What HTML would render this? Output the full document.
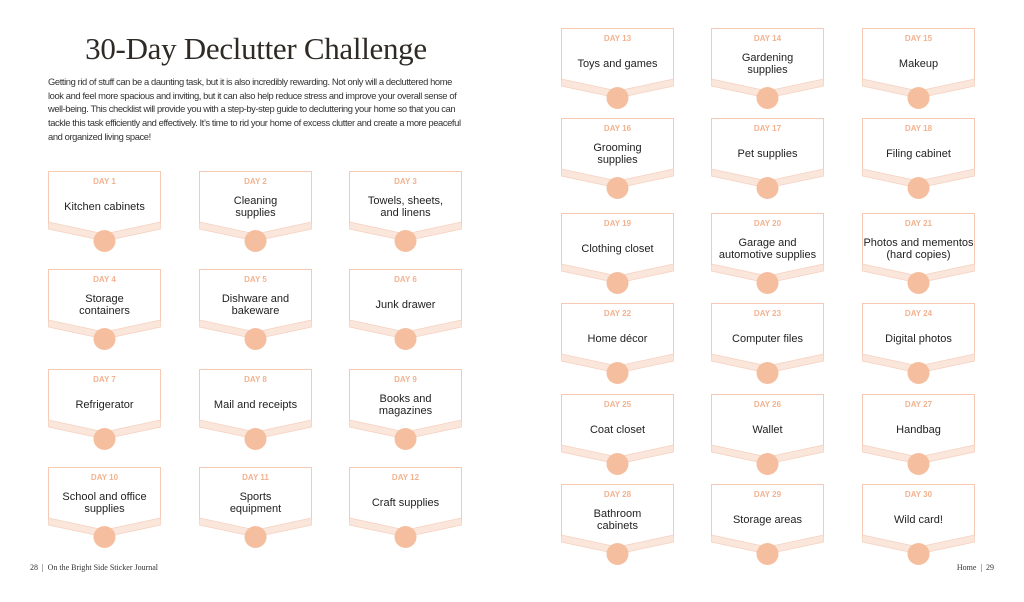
<!DOCTYPE html>
<html><head><meta charset="utf-8"><style>
body{margin:0;width:1024px;height:602px;background:#fff;overflow:hidden;position:relative;font-family:"Liberation Sans",sans-serif}
h1{position:absolute;left:0;width:512px;top:31px;margin:0;text-align:center;font:400 31px "Liberation Serif",serif;color:#2e2a26;letter-spacing:-0.3px}
p{position:absolute;left:48px;top:75px;width:480px;margin:0;font-size:9.4px;line-height:13.7px;color:#333;letter-spacing:-0.4px;white-space:nowrap}
.f{position:absolute;top:563px;font:8px "Liberation Serif",serif;color:#333}
svg{position:absolute;left:0;top:0}
.d{font:bold 8px "Liberation Sans",sans-serif;fill:#f2b28f;text-anchor:middle}
.t{font:11px "Liberation Sans",sans-serif;fill:#222;text-anchor:middle}
</style></head><body>
<h1>30-Day Declutter Challenge</h1>
<p>Getting rid of stuff can be a daunting task, but it is also incredibly rewarding. Not only will a decluttered home<br>look and feel more spacious and inviting, but it can also help reduce stress and improve your overall sense of<br>well-being. This checklist will provide you with a step-by-step guide to decluttering your home so that you can<br>tackle this task efficiently and effectively. It’s time to rid your home of excess clutter and create a more peaceful<br>and organized living space!</p>
<div class="f" style="left:30px">28 &nbsp;|&nbsp; On the Bright Side Sticker Journal</div>
<div class="f" style="right:30px">Home &nbsp;|&nbsp; 29</div>
<svg width="1024" height="602" viewBox="0 0 1024 602">
<defs>
<g id="c">
<path d="M0.5,53 V0.5 H112.5 V53" fill="none" stroke="#f5c9b3" stroke-width="1"/>
<path d="M0.5,51 L56.5,63 L112.5,51 L112.5,58 L56.5,70 L0.5,58 Z" fill="#fbe6dc" stroke="#f5d2c0" stroke-width="0.8"/>
<circle cx="56.5" cy="70" r="11" fill="#f5bf9f"/>
</g>
</defs>
<g id="cards"></g>
</svg>
<script>
var L=[[48,171],[199,171],[349,171],[48,269],[199,269],[349,269],[48,369],[199,369],[349,369],[48,467],[199,467],[349,467]];
var R=[28,118,213,303,394,484],RX=[561,711,862];
var pos=L.slice();R.forEach(function(y){RX.forEach(function(x){pos.push([x,y])})});
var T=[["Kitchen cabinets"],["Cleaning","supplies"],["Towels, sheets,","and linens"],["Storage","containers"],["Dishware and","bakeware"],["Junk drawer"],["Refrigerator"],["Mail and receipts"],["Books and","magazines"],["School and office","supplies"],["Sports","equipment"],["Craft supplies"],["Toys and games"],["Gardening","supplies"],["Makeup"],["Grooming","supplies"],["Pet supplies"],["Filing cabinet"],["Clothing closet"],["Garage and","automotive supplies"],["Photos and mementos","(hard copies)"],["Home décor"],["Computer files"],["Digital photos"],["Coat closet"],["Wallet"],["Handbag"],["Bathroom","cabinets"],["Storage areas"],["Wild card!"]];
var s="";
pos.forEach(function(p,i){
s+='<g transform="translate('+p[0]+','+p[1]+')"><use href="#c"/><text class="d" x="56.5" y="13">DAY '+(i+1)+'</text>';
var t=T[i];
if(t.length==1)s+='<text class="t" x="56.5" y="39">'+t[0]+'</text>';
else s+='<text class="t" x="56.5" y="33">'+t[0]+'</text><text class="t" x="56.5" y="45">'+t[1]+'</text>';
s+='</g>';});
document.getElementById("cards").innerHTML=s;
</script>
</body></html>
